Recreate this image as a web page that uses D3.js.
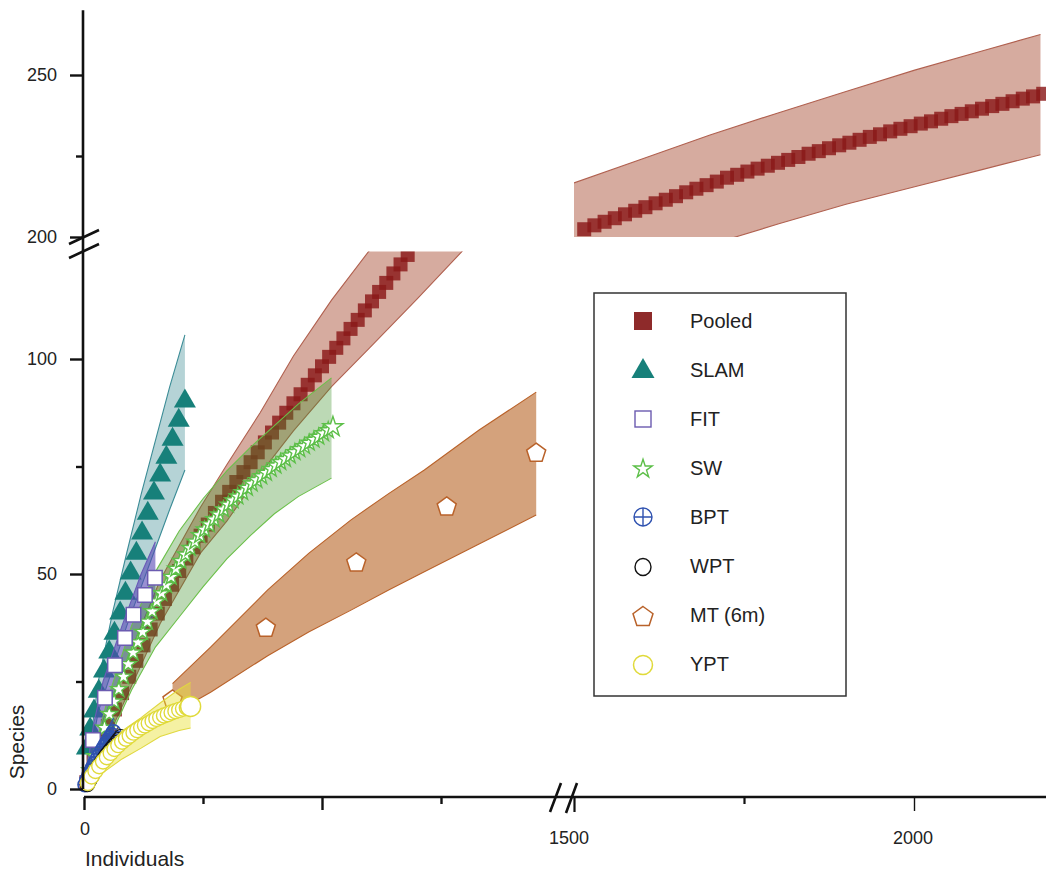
<!DOCTYPE html>
<html>
<head>
<meta charset="utf-8">
<script src="https://cdn.jsdelivr.net/npm/d3@7"></script>
<style>
  html, body { margin: 0; padding: 0; background: #fff; }
  svg { display: block; font-family: "Liberation Sans", Arial, Helvetica, sans-serif; }
</style>
</head>
<body>
<svg id="chart" width="1046" height="870"></svg>
<script>
// ---------- data: rarefaction curves (individuals vs species) ----------

// Pooled, lower part of the axis (0–1000 individuals)
const pooledIndA = [5,20,35,50,65,80,95,110,125,140,155,170,185,200,215,230,245,260,275,290,305,320,335,350,365,380,395,410,425,440,455,470,485,500,515,530,545,560,575,590,605,620,635,650,665,680];
const pooledSpA  = [1.6,6.3,11.0,14.7,18.5,22.3,26.1,29.8,33.4,37.1,40.8,44.2,47.5,50.7,53.6,56.2,58.9,61.5,64.2,66.8,69.1,71.4,73.7,76.0,78.3,80.6,82.9,85.2,87.5,89.7,91.8,94.0,96.2,98.3,100.5,102.6,104.8,107.0,109.1,111.3,113.4,115.6,117.7,119.9,122.0,124.2];
const pooledBandIndA = [0,50,100,160,245,300,370,440,520,600,700,800];
const pooledBandHiA  = [0,17,32.5,48.6,65.6,75.4,87.5,100.7,113.7,125.3,141,156];
const pooledBandLoA  = [0,12,24,38.5,54.9,62.3,73.3,83.3,93.6,102.6,114.0,125.7];

// Pooled, upper part of the axis (1500+ individuals, 200+ species)
const pooledIndB = [1515,1530,1545,1560,1575,1590,1605,1620,1635,1650,1665,1680,1695,1710,1725,1740,1755,1770,1785,1800,1815,1830,1845,1860,1875,1890,1905,1920,1935,1950,1965,1980,1995,2010,2025,2040,2055,2070,2085,2100,2115,2130,2145,2160,2175,2190];
const pooledSpB  = [202.4,203.6,204.7,205.8,207.0,208.1,209.2,210.4,211.5,212.6,213.8,214.9,216.0,217.1,218.3,219.2,220.2,221.1,222.0,222.9,223.8,224.7,225.7,226.5,227.4,228.3,229.1,230.0,230.9,231.7,232.6,233.4,234.2,235.0,235.7,236.5,237.3,238.0,238.8,239.6,240.4,241.1,241.9,242.7,243.4,244.2];
const pooledBandIndB = [1500,1600,1700,1800,1900,2001,2100,2186];
const pooledBandHiB  = [216.7,224.1,231.5,238.3,244.9,251.5,257.4,262.5];
const pooledBandLoB  = [184.8,191.2,197.6,204.0,210.1,215.5,220.8,225.4];

// SLAM
const slamInd = [6,13,21,31,42,53,64,76,87,98,110,122,134,147,160,173,186,199,212];
const slamSp  = [9.8,14.2,18.4,23.0,27.7,32.1,36.5,41.2,45.8,50.5,55.1,59.8,64.4,69.1,73.3,77.4,81.6,86.0,90.5];
const slamBandInd = [0,30,60,90,120,150,180,212];
const slamBandHi  = [0,25,41,55,68.5,81,93.5,105.6];
const slamBandLo  = [0,18,28,38,47,56,65,74.2];

// FIT
const fitInd = [19,44,65,86,104,128,149];
const fitSp  = [11.4,21.2,28.8,35.1,40.5,45.1,49.1];
const fitBandInd = [0,20,40,80,120,150];
const fitBandHi  = [0,15,25,38,50,57.5];
const fitBandLo  = [0,8,16,27,36,41];

// SW
const swInd = [13,23,33,43,53,63,73,83,93,103,113,123,133,143,153,163,173,183,193,203,213,223,233,243,253,263,273,283,293,303,313,323,333,343,353,363,373,383,393,403,413,423,433,443,453,463,473,483,493,503,513,523];
const swSp  = [4.3,7.6,10.9,14.2,17.4,20.3,23.2,26.1,29.0,31.7,34.1,36.5,38.9,41.3,43.6,45.5,47.4,49.3,51.2,53.0,54.5,56.0,57.5,59.0,60.3,61.5,62.7,63.8,65.0,66.1,67.1,68.0,69.0,70.0,71.0,71.8,72.7,73.5,74.4,75.2,76.0,76.7,77.5,78.3,79.0,79.7,80.5,81.2,81.9,82.7,83.4,84.2];
const swBandInd = [0,50,100,150,200,250,300,350,400,450,520];
const swBandHi  = [0,21,38,50.5,60,67.5,74,79.5,84.5,89.5,95.6];
const swBandLo  = [0,11,23,33,40,47,53.5,59,64,68,72.3];

// BPT
const bptInd = [2,6,10,14,18,22,26,30,34,38,42,46,50,54,58,62];
const bptSp  = [1.0,2.2,3.2,4.1,5.0,5.9,6.7,7.5,8.3,9.0,9.8,10.5,11.2,11.9,12.6,13.3];
const bptBandInd = [0,20,40,62];
const bptBandHi  = [0,7.5,12,16.5];
const bptBandLo  = [0,3.5,7,10.5];

// WPT
const wptInd = [3,8,13,18,23,28,33,38,43,48,53,58,63,68,73];
const wptSp  = [1.0,2.0,3.0,3.9,4.8,5.6,6.4,7.2,8.0,8.7,9.4,10.1,10.8,11.5,12.2];
const wptBandInd = [0,25,50,73];
const wptBandHi  = [0,7.2,11.5,14.5];
const wptBandLo  = [0,3.5,7,9.8];

// MT (6m)
const mtInd = [186,382,572,762,950];
const mtSp  = [20.7,37.4,52.6,65.6,78.1];
const mtBandInd = [186,266,386,472,561,640,715,830,950];
const mtBandHi  = [24.5,33.0,46.3,54.8,62.6,68.7,74.2,83.5,92.3];
const mtBandLo  = [17.5,22.5,31.0,36.5,41.6,46.3,50.5,57.0,63.7];

// YPT
const yptInd = [8,16,24,32,40,48,56,64,72,80,88,96,104,112,120,128,136,144,152,160,168,176,184,192,200,208,216,224];
const yptSp  = [1.4,2.9,4.2,5.3,6.4,7.4,8.4,9.3,10.2,11.0,11.7,12.4,13.1,13.7,14.3,14.8,15.3,15.8,16.3,16.7,17.1,17.4,17.8,18.1,18.4,18.7,18.9,19.2];
const yptBandInd = [0,40,80,120,160,200,224];
const yptBandHi  = [0,9,13.5,16.6,20,23.2,24.8];
const yptBandLo  = [0,3.8,7.0,9.5,12.2,13.6,14.2];

// axis ticks
const yTicksLowMajor = [0,50,100];
const yTicksLowMinor = [25,75];
const yTicksHighMajor = [200,250];
const yTicksHighMinor = [225];
const xTicksLowMajor = [0,500];
const xTicksLowMinor = [250,750];
const xTicksHighMajor = [1500,2000];
const xTicksHighMinor = [1750];

const legendLabels = ["Pooled","SLAM","FIT","SW","BPT","WPT","MT (6m)","YPT"];

// ---------- scales (broken axes: two x segments, two y segments) ----------
const xA = d3.scaleLinear().domain([0,1000]).range([84,560]);
const xB = d3.scaleLinear().domain([1500,2000]).range([574,914]);
const yA = d3.scaleLinear().domain([0,100]).range([789,359]);
const yB = d3.scaleLinear().domain([200,250]).range([237,75]);

const svg = d3.select("#chart");
const defs = svg.append("defs");
defs.append("clipPath").attr("id","clipA").append("rect")
  .attr("x",60).attr("y",yA(125)).attr("width",505).attr("height",800 - yA(125));
defs.append("clipPath").attr("id","clipB").append("rect")
  .attr("x",xB(1500)).attr("y",0).attr("width",1046 - xB(1500)).attr("height",yB(200));

const gA = svg.append("g").attr("clip-path","url(#clipA)");
const gB = svg.append("g").attr("clip-path","url(#clipB)");

function zipBand(n, hi, lo){ return n.map((d,i)=>({n:d, hi:hi[i], lo:lo[i]})); }
function zipPts(n, s){ return n.map((d,i)=>({n:d, s:s[i]})); }

function drawBand(g, x, y, n, hi, lo, fill, stroke){
  const pts = zipBand(n, hi, lo);
  g.append("path").datum(pts)
    .attr("d", d3.area().x(d=>x(d.n)).y0(d=>y(d.lo)).y1(d=>y(d.hi)))
    .attr("fill", fill);
  ["hi","lo"].forEach(k=>{
    g.append("path").datum(pts)
      .attr("d", d3.line().x(d=>x(d.n)).y(d=>y(d[k])))
      .attr("fill","none").attr("stroke",stroke).attr("stroke-width",1.1);
  });
}

function pentagonPath(r){
  let p = "";
  for (let i=0;i<5;i++){
    const a = -Math.PI/2 + i*2*Math.PI/5;
    p += (i ? "L" : "M") + (r*Math.cos(a)).toFixed(2) + "," + (r*Math.sin(a)).toFixed(2);
  }
  return p + "Z";
}
function trianglePath(w, h){
  return `M0,${-h*0.6}L${w/2},${h*0.4}L${-w/2},${h*0.4}Z`;
}

// colours
const C = {
  pooled: "#8a1818", pooledBand: "rgba(164,68,42,0.45)", pooledEdge: "#b0604f",
  slam: "#17807a", slamBand: "rgba(44,129,138,0.35)", slamEdge: "#3b8c96",
  fit: "#6b5bb0", fitBand: "rgba(85,70,180,0.6)", fitEdge: "#6a5ab8",
  sw: "#5cbf48", swBand: "rgba(64,146,44,0.35)", swEdge: "#6cc04a",
  bpt: "#2f52b0", bptBand: "rgba(40,80,180,0.55)",
  wpt: "#111111", wptBand: "rgba(60,60,60,0.45)",
  mt: "#b9622a", mtBand: "rgba(183,100,37,0.6)", mtEdge: "#b9622a",
  ypt: "#e0da3a", yptBand: "rgba(232,224,50,0.45)", yptEdge: "#e0d840"
};

// ---------- pooled ----------
drawBand(gA, xA, yA, pooledBandIndA, pooledBandHiA, pooledBandLoA, C.pooledBand, C.pooledEdge);
drawBand(gB, xB, yB, pooledBandIndB, pooledBandHiB, pooledBandLoB, C.pooledBand, C.pooledEdge);
const sq = d3.symbol().type(d3.symbolSquare).size(196);
gA.selectAll(".pA").data(zipPts(pooledIndA, pooledSpA)).join("path")
  .attr("d", sq).attr("transform", d=>`translate(${xA(d.n)},${yA(d.s)})`)
  .attr("fill", C.pooled).attr("fill-opacity",0.82);
gB.selectAll(".pB").data(zipPts(pooledIndB, pooledSpB)).join("path")
  .attr("d", sq).attr("transform", d=>`translate(${xB(d.n)},${yB(d.s)})`)
  .attr("fill", C.pooled).attr("fill-opacity",0.82);

// ---------- MT (6m) band ----------
drawBand(gA, xA, yA, mtBandInd, mtBandHi, mtBandLo, C.mtBand, C.mtEdge);

// ---------- SLAM ----------
drawBand(gA, xA, yA, slamBandInd, slamBandHi, slamBandLo, C.slamBand, C.slamEdge);
gA.selectAll(".slam").data(zipPts(slamInd, slamSp)).join("path")
  .attr("d", trianglePath(22,19)).attr("transform", d=>`translate(${xA(d.n)},${yA(d.s)})`)
  .attr("fill", C.slam);

// ---------- FIT band ----------
drawBand(gA, xA, yA, fitBandInd, fitBandHi, fitBandLo, C.fitBand, C.fitEdge);

// ---------- SW ----------
drawBand(gA, xA, yA, swBandInd, swBandHi, swBandLo, C.swBand, C.swEdge);
const swPts = zipPts(swInd, swSp);
gA.selectAll(".sw").data(swPts).join("path")
  .attr("d", (d,i)=>d3.symbol().type(d3.symbolStar).size(i===swPts.length-1 ? 125 : 82)())
  .attr("transform", d=>`translate(${xA(d.n)},${yA(d.s)})`)
  .attr("fill","#fff").attr("stroke", C.sw).attr("stroke-width",1.4);

// ---------- FIT markers ----------
gA.selectAll(".fit").data(zipPts(fitInd, fitSp)).join("path")
  .attr("d", d3.symbol().type(d3.symbolSquare).size(210))
  .attr("transform", d=>`translate(${xA(d.n)},${yA(d.s)})`)
  .attr("fill","#fff").attr("stroke", C.fit).attr("stroke-width",1.5);

// ---------- BPT & WPT ----------
drawBand(gA, xA, yA, wptBandInd, wptBandHi, wptBandLo, C.wptBand, "#444");
drawBand(gA, xA, yA, bptBandInd, bptBandHi, bptBandLo, C.bptBand, C.bpt);
const bptG = gA.selectAll(".bpt").data(zipPts(bptInd, bptSp)).join("g")
  .attr("transform", d=>`translate(${xA(d.n)},${yA(d.s)})`)
  .attr("fill","none").attr("stroke", C.bpt).attr("stroke-width",1.5);
bptG.append("circle").attr("r",7);
bptG.append("path").attr("d","M-7,0H7M0,-7V7");
gA.selectAll(".wpt").data(zipPts(wptInd, wptSp)).join("circle")
  .attr("cx", d=>xA(d.n) + 2).attr("cy", d=>yA(d.s)).attr("r",7)
  .attr("fill","none").attr("stroke", C.wpt).attr("stroke-width",1.1);

// ---------- MT (6m) markers ----------
gA.selectAll(".mt").data(zipPts(mtInd, mtSp)).join("path")
  .attr("d", pentagonPath(10)).attr("transform", d=>`translate(${xA(d.n)},${yA(d.s)})`)
  .attr("fill","#fff").attr("stroke", C.mt).attr("stroke-width",1.5);

// ---------- YPT ----------
drawBand(gA, xA, yA, yptBandInd, yptBandHi, yptBandLo, C.yptBand, C.yptEdge);
const yptPts = zipPts(yptInd, yptSp);
gA.selectAll(".ypt").data(yptPts).join("circle")
  .attr("cx", d=>xA(d.n)).attr("cy", d=>yA(d.s))
  .attr("r", (d,i)=> i===yptPts.length-1 ? 10 : 7.5)
  .attr("fill","#fff").attr("stroke", C.ypt).attr("stroke-width",1.4);

// ---------- axes ----------
const axisColor = "#111";
const textColor = "#222";

function styleAxis(g, width){
  g.select(".domain").remove();
  g.selectAll(".tick line").attr("stroke", axisColor).attr("stroke-width", width);
  g.selectAll(".tick text").remove();
}
const yAxisX = 83;
// y axis line (continuous through the break)
svg.append("line").attr("x1",yAxisX).attr("x2",yAxisX).attr("y1",yB(270)).attr("y2",yA(0))
  .attr("stroke",axisColor).attr("stroke-width",2.6);
[[yA, yTicksLowMajor, 13],[yA, yTicksLowMinor, 7],[yB, yTicksHighMajor, 13],[yB, yTicksHighMinor, 7]]
  .forEach(([sc, vals, size])=>{
    const g = svg.append("g").attr("transform",`translate(${yAxisX},0)`)
      .call(d3.axisLeft(sc).tickValues(vals).tickSize(size));
    styleAxis(g, 2.4);
  });
// y tick labels
const yLabelData = yTicksLowMajor.map(v=>({v, y:yA(v)})).concat(yTicksHighMajor.map(v=>({v, y:yB(v)})));
svg.selectAll(".ylab").data(yLabelData).join("text")
  .attr("x",57).attr("y",d=>d.y).attr("dy","0.36em").attr("text-anchor","end")
  .attr("font-size",18).attr("fill",textColor).text(d=>d.v);

// x axis line
const xAxisY = 797;
svg.append("line").attr("x1",xA(0)).attr("x2",1046).attr("y1",xAxisY).attr("y2",xAxisY)
  .attr("stroke",axisColor).attr("stroke-width",2.6);
[[xA, xTicksLowMajor, 13, 2.4],[xA, xTicksLowMinor, 7, 2.4],[xB, [1500], 15, 2.2],[xB, xTicksHighMinor, 7, 2.2],[xB, [2000], 14, 1.4]]
  .forEach(([sc, vals, size, w])=>{
    const g = svg.append("g").attr("transform",`translate(0,${xAxisY})`)
      .call(d3.axisBottom(sc).tickValues(vals).tickSize(size));
    styleAxis(g, w);
  });
// x tick labels
svg.append("text").attr("x",xA(0)+1).attr("y",829).attr("dy","0.36em").attr("text-anchor","middle")
  .attr("font-size",18).attr("fill",textColor).text(xTicksLowMajor[0]);
svg.selectAll(".xlab").data(xTicksHighMajor).join("text")
  .attr("x",d=>xB(d)-5 + (d===2000 ? 4 : 0)).attr("y",838).attr("dy","0.36em").attr("text-anchor","middle")
  .attr("font-size",18).attr("fill",textColor).text(d=>d);

// break marks
const brk = svg.append("g").attr("stroke",axisColor).attr("stroke-width",2.6).attr("fill","none");
brk.append("path").attr("d","M69,244L99,230M69,258L99,244");
brk.append("path").attr("d","M550,812L561,783M566,813L577,783");

// axis titles
svg.append("text").attr("transform","translate(24,742) rotate(-90)")
  .attr("text-anchor","middle").attr("font-size",21).attr("fill",textColor).text("Species");
svg.append("text").attr("x",85).attr("y",866)
  .attr("font-size",21).attr("fill",textColor).text("Individuals");

// ---------- legend ----------
const lg = svg.append("g");
lg.append("rect").attr("x",594).attr("y",293).attr("width",252).attr("height",403)
  .attr("fill","#fff").attr("stroke","#333").attr("stroke-width",1.5);
const rowY = i => 321 + i*49;
const symX = 643;
const rows = lg.selectAll(".row").data(legendLabels).join("g")
  .attr("transform",(d,i)=>`translate(0,${rowY(i)})`);
rows.append("text").attr("x",690).attr("dy","0.36em").attr("font-size",20)
  .attr("fill",textColor).text(d=>d);
const sym = lg.append("g");
sym.append("rect").attr("x",symX-9).attr("y",rowY(0)-9).attr("width",18).attr("height",18).attr("fill","#8e2a2a");
sym.append("path").attr("d",trianglePath(23,20)).attr("transform",`translate(${symX},${rowY(1)})`).attr("fill",C.slam);
sym.append("rect").attr("x",symX-8).attr("y",rowY(2)-8).attr("width",16).attr("height",16)
  .attr("fill","#fff").attr("stroke",C.fit).attr("stroke-width",1.4);
sym.append("path").attr("d",d3.symbol().type(d3.symbolStar).size(105)())
  .attr("transform",`translate(${symX},${rowY(3)+1})`).attr("fill","#fff").attr("stroke",C.sw).attr("stroke-width",1.4);
const bl = sym.append("g").attr("transform",`translate(${symX},${rowY(4)})`).attr("fill","none").attr("stroke",C.bpt).attr("stroke-width",1.4);
bl.append("circle").attr("r",9);
bl.append("path").attr("d","M-9,0H9M0,-9V9");
sym.append("ellipse").attr("cx",symX).attr("cy",rowY(5)+1).attr("rx",8).attr("ry",8.5)
  .attr("fill","none").attr("stroke","#111").attr("stroke-width",1.4);
sym.append("path").attr("d",pentagonPath(10.5)).attr("transform",`translate(${symX},${rowY(6)+2})`)
  .attr("fill","#fff").attr("stroke",C.mt).attr("stroke-width",1.5);
sym.append("circle").attr("cx",symX).attr("cy",rowY(7)+1).attr("r",9.5)
  .attr("fill","#fff").attr("stroke",C.ypt).attr("stroke-width",1.5);
</script>
</body>
</html>
